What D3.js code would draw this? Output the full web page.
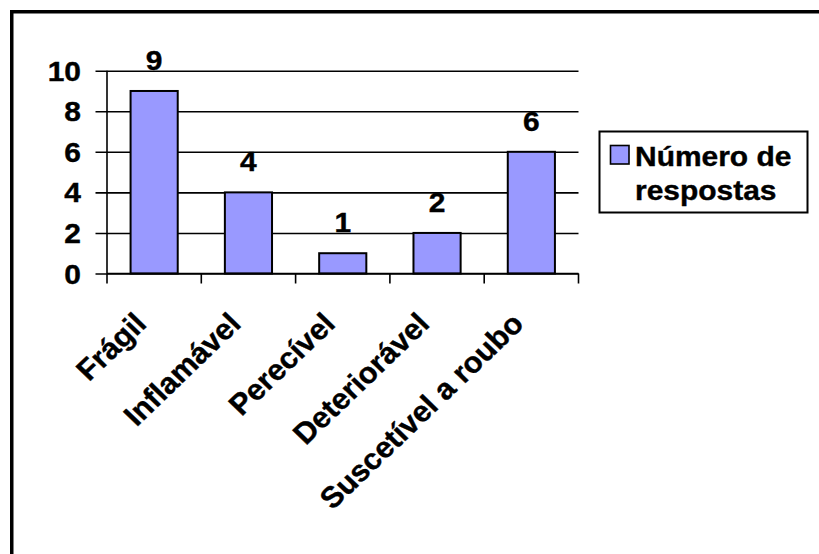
<!DOCTYPE html>
<html>
<head>
<meta charset="utf-8">
<script src="https://cdn.jsdelivr.net/npm/d3@7"></script>
<style>
  html, body { margin: 0; padding: 0; background: #fff; }
  svg { display: block; }
  text { font-family: "Liberation Sans", Arial, sans-serif; font-weight: bold; fill: #000;
         stroke: #000; stroke-width: 0.4; }
</style>
</head>
<body>
<svg id="chart" width="819" height="554"></svg>
<script>
// Categories and counts
const categories = ["Frágil", "Inflamável", "Perecível", "Deteriorável", "Suscetível a roubo"];
const respostas = [9, 4, 1, 2, 6];
const yTicks = [0, 2, 4, 6, 8, 10];
const seriesName = ["Número de", "respostas"];

const W = 819, H = 554;
const FONT = 28;       // upright label font size
const FONT_ROT = 29.5; // slanted category label font size
const SX = 1.07;       // horizontal stretch of upright glyphs
const SX_ROT = 1.04;   // horizontal stretch of slanted glyphs
const barFill = "#9999FF";

const svg = d3.select("#chart");

// Outer frame (top and left edges visible)
svg.append("rect")
  .attr("x", 11.75).attr("y", 11.75)
  .attr("width", W + 50).attr("height", H + 50)
  .attr("fill", "none").attr("stroke", "#000").attr("stroke-width", 3.5);

const plot = { left: 107, right: 578.5, top: 70.7, bottom: 273.5 };

const x = d3.scaleBand().domain(categories).range([plot.left, plot.right]);
const y = d3.scaleLinear().domain([0, 10]).range([plot.bottom, plot.top]);

// Horizontal gridlines with left ticks
const yAxis = d3.axisLeft(y).tickValues(yTicks).tickSize(-(plot.right - plot.left)).tickFormat("");
const gy = svg.append("g").attr("transform", `translate(${plot.left},0)`).call(yAxis);
gy.select(".domain").remove();
gy.selectAll(".tick line")
  .attr("x1", -11.5)
  .attr("stroke", "#000").attr("stroke-width", 1.6);

// Y tick labels
svg.append("g").selectAll("text").data(yTicks).join("text")
  .attr("transform", d => `translate(81,${y(d) + 10}) scale(${SX},1)`)
  .attr("text-anchor", "end")
  .attr("font-size", FONT)
  .text(d => d);

// Bars
const barW = x.bandwidth() / 2;
svg.append("g").selectAll("rect").data(respostas).join("rect")
  .attr("x", (d, i) => x(categories[i]) + x.bandwidth() / 4)
  .attr("y", d => y(d))
  .attr("width", barW)
  .attr("height", d => y(0) - y(d))
  .attr("fill", barFill)
  .attr("stroke", "#000").attr("stroke-width", 2);

// Y axis line
svg.append("line")
  .attr("x1", plot.left).attr("x2", plot.left)
  .attr("y1", plot.top).attr("y2", plot.bottom)
  .attr("stroke", "#000").attr("stroke-width", 1.6);

// X axis with ticks at category boundaries
const boundaries = categories.map(c => x(c)).concat([plot.right]);
svg.append("line")
  .attr("x1", plot.left).attr("x2", plot.right)
  .attr("y1", plot.bottom).attr("y2", plot.bottom)
  .attr("stroke", "#000").attr("stroke-width", 1.6);
svg.append("g").selectAll("line").data(boundaries).join("line")
  .attr("x1", d => d).attr("x2", d => d)
  .attr("y1", plot.bottom).attr("y2", plot.bottom + 10)
  .attr("stroke", "#000").attr("stroke-width", 1.6);

// Value labels above bars
svg.append("g").selectAll("text").data(respostas).join("text")
  .attr("transform", (d, i) => `translate(${x(categories[i]) + x.bandwidth() / 2},${y(d) - 21}) scale(${SX},1)`)
  .attr("text-anchor", "middle")
  .attr("font-size", FONT)
  .text(d => d);

// Rotated category labels
svg.append("g").selectAll("text").data(categories).join("text")
  .attr("transform", d => `translate(${x(d) + x.bandwidth() / 2 - 6},${plot.bottom + 52}) scale(${SX_ROT},1) rotate(-45)`)
  .attr("text-anchor", "end")
  .attr("font-size", FONT_ROT)
  .text(d => d);

// Legend
const lg = svg.append("g");
lg.append("rect")
  .attr("x", 599.5).attr("y", 131.5).attr("width", 208).attr("height", 81)
  .attr("fill", "#fff").attr("stroke", "#000").attr("stroke-width", 2);
lg.append("rect")
  .attr("x", 610.5).attr("y", 145.5).attr("width", 18.5).attr("height", 18.5)
  .attr("fill", barFill).attr("stroke", "#000").attr("stroke-width", 1.6);
lg.selectAll("text.name").data(seriesName).join("text")
  .attr("class", "name")
  .attr("transform", (d, i) => `translate(635,${166 + i * 34}) scale(${SX},1)`)
  .attr("font-size", FONT)
  .text(d => d);
</script>
</body>
</html>
